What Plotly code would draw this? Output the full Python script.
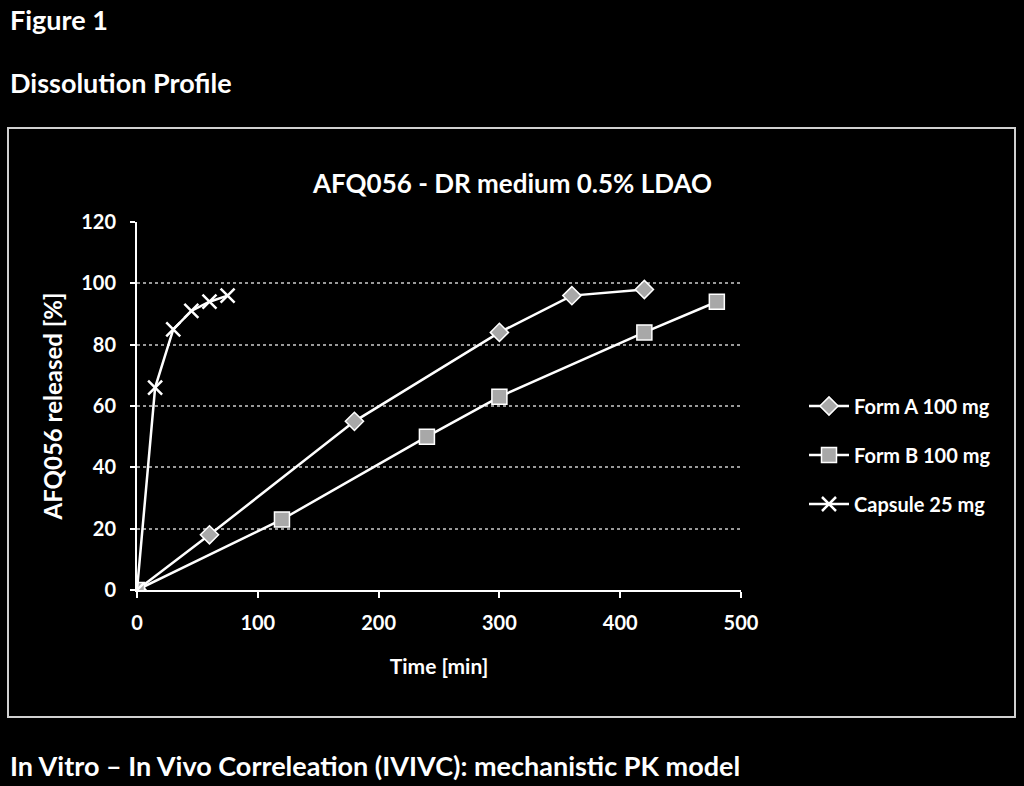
import plotly.graph_objects as go

# data
time_a = [0, 60, 180, 300, 360, 420]
form_a = [0, 18, 55, 84, 96, 98]

time_b = [0, 120, 240, 300, 420, 480]
form_b = [0, 23, 50, 63, 84, 94]

time_c = [0, 15, 30, 45, 60, 75]
capsule = [0, 66, 85, 91, 94, 96]

names = ["Form A 100 mg", "Form B 100 mg", "Capsule 25 mg"]
x_ticks = [0, 100, 200, 300, 400, 500]
y_ticks = [0, 20, 40, 60, 80, 100, 120]

FONT = "Lato"
W, H = 1024, 786
# plot area in pixels
L, R, T, B = 137, 741, 222, 590


def px(x):
    return (x - L) / (R - L)


def py(y):
    return (B - y) / (B - T)


fig = go.Figure()

line = dict(color="white", width=2.5)
fig.add_trace(go.Scatter(
    x=time_a, y=form_a, name=names[0], legendgroup="a", mode="lines+markers", line=line,
    marker=dict(symbol="diamond", size=14, color="#a8a8a8",
                line=dict(color="white", width=1.5)),
))
fig.add_trace(go.Scatter(
    x=time_b, y=form_b, name=names[1], legendgroup="b", mode="lines+markers", line=line,
    marker=dict(symbol="square", size=15, color="#a8a8a8",
                line=dict(color="white", width=1.5)),
))
fig.add_trace(go.Scatter(
    x=time_c, y=capsule, name=names[2], legendgroup="c", mode="lines+markers", line=line,
    marker=dict(symbol="x-thin", size=14, color="white",
                line=dict(color="white", width=2.5)),
))

bold = dict(family=FONT, size=20, weight="bold", color="white")

fig.update_layout(
    width=W, height=H,
    margin=dict(l=L, r=W - R, t=T, b=H - B, pad=0),
    paper_bgcolor="black", plot_bgcolor="black",
    font=dict(family=FONT, color="white", size=20),
    showlegend=True,
    legend=dict(x=px(804), y=py(455), xanchor="left", yanchor="middle",
                font=dict(size=20, family=FONT, weight="bold"), bgcolor="rgba(0,0,0,0)",
                itemwidth=40, tracegroupgap=20),
    xaxis=dict(
        range=[0, 500], tickvals=x_ticks, showgrid=False, zeroline=False,
        showline=True, linecolor="white", linewidth=2,
        ticks="outside", tickcolor="white", ticklen=6, tickwidth=2,
        tickfont=bold, ticklabelstandoff=8,
        title=dict(text="Time [min]", font=dict(bold, size=21), standoff=26),
    ),
    yaxis=dict(
        range=[0, 120], tickvals=y_ticks, zeroline=False,
        showgrid=True, gridcolor="#9a9a9a", gridwidth=2, griddash="dot",
        showline=True, linecolor="white", linewidth=2,
        ticks="outside", tickcolor="white", ticklen=5, tickwidth=2,
        tickfont=bold, ticklabelstandoff=10,
        title=dict(text="AFQ056 released [%]", font=dict(bold, size=24), standoff=12),
    ),
)

# outer chart frame
fig.add_shape(type="rect", xref="paper", yref="paper",
              x0=px(8), x1=px(1015), y0=py(717), y1=py(128),
              line=dict(color="#d0d0d0", width=2))

texts = [
    ("<b>Figure 1</b>", 8, 20, "left", 27),
    ("<b>Dissolution Profile</b>", 8, 82, "left", 27),
    ("<b>In Vitro – In Vivo Correleation (IVIVC): mechanistic PK model</b>", 8, 765, "left", 27),
    ("<b>AFQ056 - DR medium 0.5% LDAO</b>", 512, 183, "center", 26),
]
for txt, x, y, anchor, size in texts:
    fig.add_annotation(text=txt, xref="paper", yref="paper", x=px(x), y=py(y),
                       xanchor=anchor, yanchor="middle", showarrow=False,
                       font=dict(size=size, family=FONT, color="white"))

fig.write_html(
    "out.html",
    config={"displayModeBar": False},
    post_script="document.body.style.margin='0';document.body.style.background='black';",
)
